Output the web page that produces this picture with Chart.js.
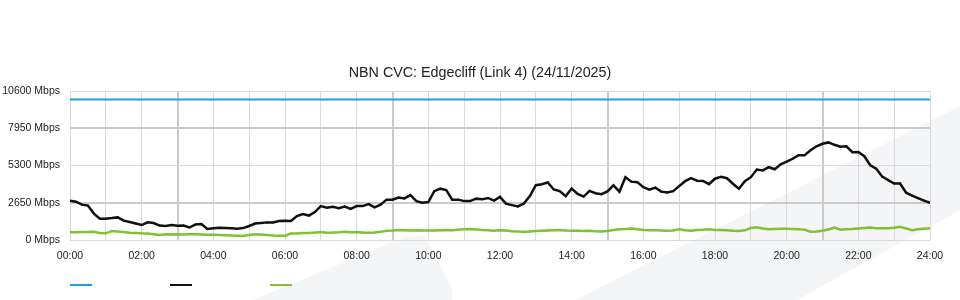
<!DOCTYPE html>
<html>
<head>
<meta charset="utf-8">
<script src="https://cdn.jsdelivr.net/npm/chart.js@4/dist/chart.umd.min.js"></script>
<style>
  html, body { margin: 0; padding: 0; background: #fff; }
  #wrap { width: 960px; height: 300px; }
</style>
</head>
<body>
<div id="wrap"><canvas id="chart"></canvas></div>
<script>
// sample times, minutes since midnight (10 minute samples)
const times = Array.from({ length: 145 }, (_, i) => i * 10);
const hourLabels = ['00:00', '02:00', '04:00', '06:00', '08:00', '10:00', '12:00',
                    '14:00', '16:00', '18:00', '20:00', '22:00', '24:00'];
const yTicks = [0, 2650, 5300, 7950, 10600];

const capacityTimes = [0, 1440];
const capacity = [10000, 10000];

const download = [
  2790, 2730, 2520, 2450, 1880, 1510, 1520, 1560, 1610, 1380,
  1280, 1170, 1065, 1260, 1210, 1030, 995, 1065, 1015, 1030,
  890, 1100, 1135, 780, 830, 865, 850, 840, 795, 850,
  995, 1170, 1210, 1255, 1255, 1350, 1365, 1350, 1705, 1845,
  1740, 1990, 2415, 2295, 2365, 2270, 2380, 2220, 2415, 2415,
  2555, 2330, 2520, 2875, 2875, 3030, 2960, 3195, 2770, 2660,
  2700, 3480, 3655, 3550, 2875, 2875, 2770, 2770, 2945, 2895,
  2995, 2805, 3075, 2590, 2485, 2390, 2605, 3125, 3905, 3975,
  4100, 3600, 3480, 3125, 3670, 3280, 3090, 3495, 3335, 3265,
  3465, 3890, 3445, 4475, 4155, 4120, 3765, 3585, 3730, 3445,
  3385, 3480, 3835, 4190, 4400, 4225, 4210, 3975, 4365, 4495,
  4400, 4010, 3655, 4190, 4475, 5020, 4955, 5185, 5040, 5395,
  5575, 5785, 6035, 6035, 6390, 6675, 6850, 6950, 6780, 6640,
  6675, 6250, 6270, 5965, 5325, 5075, 4510, 4260, 4025, 4025,
  3370, 3160, 2980, 2805, 2650
];

const upload = [
  550, 550, 570, 570, 580, 500, 475, 640, 600, 570,
  520, 500, 475, 460, 405, 355, 405, 390, 405, 390,
  405, 405, 390, 370, 370, 355, 335, 320, 305, 284,
  355, 410, 390, 355, 320, 305, 300, 460, 460, 500,
  500, 530, 570, 520, 530, 550, 590, 550, 550, 530,
  520, 530, 580, 660, 675, 710, 690, 675, 690, 675,
  675, 675, 690, 710, 690, 725, 760, 780, 745, 710,
  690, 660, 690, 675, 625, 600, 590, 600, 640, 655,
  675, 690, 710, 675, 660, 655, 640, 660, 620, 600,
  640, 710, 760, 780, 815, 760, 710, 700, 690, 675,
  660, 675, 760, 690, 660, 710, 730, 760, 710, 710,
  690, 660, 640, 690, 850, 900, 815, 760, 780, 800,
  800, 780, 760, 725, 590, 600, 655, 745, 890, 730,
  765, 780, 815, 850, 890, 830, 830, 830, 865, 940,
  815, 690, 765, 795, 830
];

const pts = (xs, ys) => xs.map((x, i) => ({ x: x, y: ys[i] }));

// faint background swoosh behind the chart
const swoosh = {
  id: 'swoosh',
  beforeDraw(chart) {
    const c = chart.ctx;
    c.save();
    c.fillStyle = '#f4f5f7';
    c.beginPath();
    c.moveTo(253, 300); c.lineTo(405, 237); c.lineTo(425, 236);
    c.lineTo(452, 288); c.lineTo(452, 300);
    c.closePath(); c.fill();
    c.beginPath();
    c.moveTo(575, 300); c.lineTo(960, 106); c.lineTo(960, 210); c.lineTo(797, 300);
    c.closePath(); c.fill();
    c.restore();
  }
};

// legend: short coloured line per series, no text
const lineLegend = {
  id: 'lineLegend',
  afterDraw(chart) {
    const c = chart.ctx;
    c.save();
    chart.data.datasets.forEach((ds, i) => {
      c.fillStyle = ds.borderColor;
      c.fillRect(70 + i * 100, 284, 22, 2);
    });
    c.restore();
  }
};

const darkX = c => c.tick && c.tick.value % 360 === 180;
const darkY = c => c.tick && (c.tick.value === 2650 || c.tick.value === 7950);

Chart.defaults.font.family = '"Liberation Sans", Arial, sans-serif';
Chart.defaults.color = '#222';

const ctx = document.getElementById('chart').getContext('2d');
new Chart(ctx, {
  type: 'line',
  data: {
    datasets: [
      { label: 'Capacity', data: pts(capacityTimes, capacity), borderColor: '#1f9fe3',
        borderWidth: 2, pointRadius: 0 },
      { label: 'Download', data: pts(times, download), borderColor: '#111111',
        backgroundColor: '#111111', borderWidth: 2.5, pointRadius: 1, pointBorderWidth: 0 },
      { label: 'Upload', data: pts(times, upload), borderColor: '#82c232',
        backgroundColor: '#82c232', borderWidth: 2.5, pointRadius: 1, pointBorderWidth: 0 }
    ]
  },
  options: {
    responsive: true,
    maintainAspectRatio: false,
    animation: false,
    layout: { padding: 0 },
    plugins: {
      legend: { display: false },
      tooltip: { enabled: false },
      title: {
        display: true,
        text: 'NBN CVC: Edgecliff (Link 4) (24/11/2025)',
        color: '#222',
        font: { size: 14.3, weight: 'normal' },
        padding: { top: 64, bottom: 10 }
      }
    },
    scales: {
      x: {
        type: 'linear',
        min: 0,
        max: 1440,
        afterFit: s => { s.height = 60; s.paddingRight = 30; s.paddingLeft = 0; },
        border: { display: false },
        grid: {
          drawTicks: false,
          color: c => darkX(c) ? '#cbcbcb' : '#dadada',
          lineWidth: c => darkX(c) ? 2 : 1
        },
        ticks: {
          stepSize: 60,
          autoSkip: false,
          maxRotation: 0,
          padding: 10,
          font: { size: 10.5 },
          callback: v => (v % 120 === 0 ? hourLabels[v / 120] : '')
        }
      },
      y: {
        min: 0,
        max: 10600,
        afterFit: s => { s.width = 70; },
        afterBuildTicks: s => { s.ticks = yTicks.map(v => ({ value: v })); },
        border: { display: false },
        grid: {
          drawTicks: false,
          color: c => darkY(c) ? '#cbcbcb' : '#dadada',
          lineWidth: c => darkY(c) ? 2 : 1
        },
        ticks: {
          padding: 10,
          font: { size: 10.5 },
          callback: v => v + ' Mbps'
        }
      }
    }
  },
  plugins: [swoosh, lineLegend]
});
</script>
</body>
</html>
